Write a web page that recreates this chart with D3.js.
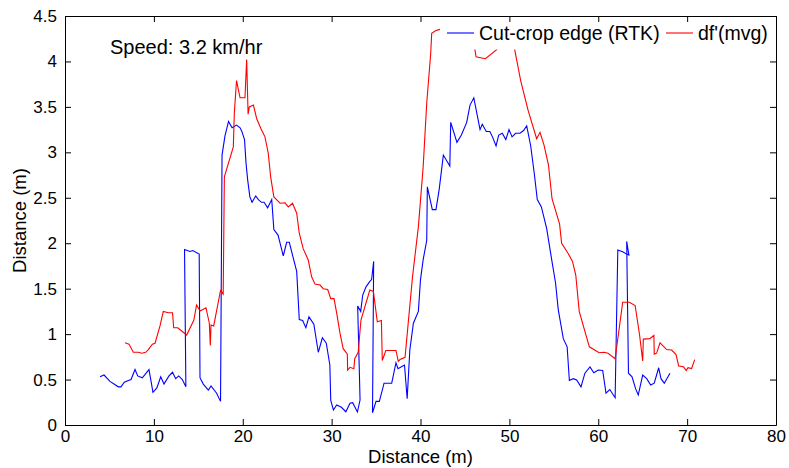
<!DOCTYPE html>
<html><head><meta charset="utf-8">
<script src="https://cdn.jsdelivr.net/npm/d3@7"></script>
<style>body{margin:0;background:#fff}svg{display:block}text{font-family:"Liberation Sans",Arial,sans-serif}</style>
</head><body><svg id="c" width="789" height="468"></svg>
<script>
const xTicks = [0,10,20,30,40,50,60,70,80];
const yTicks = [0,0.5,1,1.5,2,2.5,3,3.5,4,4.5];
const seriesNames = ["Cut-crop edge (RTK)", "df'(mvg)"];
const annotation = "Speed: 3.2 km/hr";
const xLabel = "Distance (m)";
const yLabel = "Distance (m)";

const rtkX = [3.94,4.39,5.06,6.0,6.3,6.67,7.13,7.43,7.88,8.18,8.7,9.45,9.9,10.35,10.77,11.14,11.7,12.1,12.45,12.8,13.2,13.6,13.45,14.06,14.37,15.1,15.19,15.56,16.13,16.43,17.06,17.5,17.67,18.0,18.4,18.8,19.3,19.7,19.9,20.2,20.37,20.55,20.8,21.05,21.46,21.76,22.1,22.4,22.8,23.26,23.5,23.97,24.2,24.56,24.94,25.24,25.6,26.07,26.36,26.74,27.1,27.45,28.0,28.5,28.96,29.4,29.8,29.9,30.2,30.57,31.1,31.6,32.07,32.37,32.9,33.2,32.93,33.27,33.5,33.87,34.3,34.5,34.73,34.6,35.0,35.37,35.9,36.76,37.24,37.47,38.0,38.2,38.5,38.8,39.2,39.76,40.0,40.3,40.7,40.77,41.33,41.74,42.1,42.57,43.3,43.4,44.1,44.6,45.2,45.57,46.0,46.7,46.95,47.4,47.8,48.1,48.5,48.8,49.2,49.6,49.96,50.3,50.7,51.2,51.6,51.95,52.4,52.8,53.14,53.6,54.2,54.76,55.2,55.5,56.07,56.5,56.75,57.2,57.57,58.06,58.5,59.07,59.5,60.0,60.5,60.87,61.3,61.9,62.2,62.75,63.2,63.45,63.2,63.4,63.8,64.2,64.5,65.0,65.45,65.9,66.3,66.8,67.06,67.43,68.07];
const rtkY = [0.53,0.55,0.48,0.42,0.42,0.47,0.49,0.5,0.61,0.54,0.52,0.61,0.36,0.41,0.53,0.45,0.54,0.58,0.51,0.54,0.5,0.42,1.93,1.91,1.92,1.88,0.52,0.45,0.385,0.43,0.35,0.26,2.97,3.18,3.34,3.27,3.3,3.27,3.23,3.14,2.88,2.7,2.51,2.45,2.52,2.48,2.45,2.45,2.39,2.48,2.15,2.09,2.0,1.86,2.01,2.01,1.87,1.69,1.16,1.15,1.07,1.19,1.11,0.8,0.96,0.9,0.66,0.27,0.165,0.22,0.195,0.146,0.24,0.245,0.143,0.275,1.31,1.25,1.43,1.52,1.58,1.6,1.8,0.135,0.26,0.26,0.46,0.46,0.685,0.62,0.65,0.66,0.29,0.825,1.12,1.25,1.6,1.82,2.03,2.62,2.37,2.37,2.59,2.97,2.85,3.33,3.11,3.19,3.33,3.52,3.6,3.25,3.31,3.23,3.23,3.17,3.07,3.19,3.21,3.14,3.25,3.17,3.21,3.21,3.24,3.29,3.07,2.77,2.48,2.4,2.16,1.82,1.56,1.27,0.95,0.86,0.49,0.51,0.495,0.42,0.57,0.64,0.575,0.605,0.6,0.35,0.39,0.3,1.925,1.905,1.88,1.87,2.02,0.57,0.53,0.4,0.33,0.55,0.51,0.44,0.46,0.63,0.51,0.46,0.57];

const dfX = [6.75,7.2,7.69,8.25,8.63,9.08,9.38,9.83,10.13,10.69,11.06,11.63,12.1,12.23,12.68,13.69,14.5,14.8,15.2,15.86,16.24,16.35,16.43,16.73,17.5,17.8,17.93,18.94,19.05,19.3,19.7,20.25,20.44,20.6,20.74,21.2,21.57,22.05,22.5,22.87,23.14,23.5,24.2,24.75,25.13,25.6,26.07,26.36,26.8,27.37,27.75,28.13,28.7,29.06,29.56,29.9,30.27,30.57,30.94,31.3,31.77,31.8,32.07,32.5,32.6,32.99,33.3,34.3,34.7,35.14,35.6,35.7,36.1,37.24,37.5,37.7,38.26,39.1,39.76,40.3,40.7,41.15,41.26,41.74,42.1,43.0,44.0,45.0,45.9,46.13,46.25,47.3,48.57,49.2,50.0,50.6,51.27,52.1,53.07,53.45,53.9,54.4,54.8,55.65,55.88,56.6,57.1,57.47,57.86,58.5,59.0,59.5,60.1,60.65,61.1,61.9,62.75,63.5,64.15,64.65,65.0,65.07,65.8,66.26,66.3,66.57,66.95,67.7,68.26,68.75,69.05,69.6,69.9,70.1,70.5,70.85];
const dfY = [0.905,0.89,0.8,0.8,0.79,0.8,0.83,0.89,0.9,1.09,1.25,1.235,1.235,1.07,1.07,0.99,1.155,1.32,1.255,1.29,1.12,0.875,1.1,1.09,1.48,1.44,2.73,3.06,3.43,3.79,3.6,3.6,4.02,3.42,3.5,3.52,3.37,3.26,3.17,2.99,2.73,2.51,2.44,2.445,2.4,2.44,2.33,2.11,1.94,1.815,1.63,1.55,1.54,1.5,1.49,1.39,1.39,1.23,1.01,0.84,0.78,0.605,0.635,0.62,0.73,0.8,1.155,1.485,1.47,1.135,1.15,0.71,0.82,0.82,0.7,0.72,0.745,1.63,2.18,2.84,3.54,4.09,4.31,4.34,4.35,4.4,4.42,4.38,4.25,4.125,4.05,4.03,4.13,4.3,4.32,4.13,3.79,3.465,3.15,3.22,3.08,2.86,2.49,2.21,2.0,1.89,1.8,1.65,1.25,1.03,0.86,0.83,0.795,0.8,0.79,0.73,1.35,1.35,1.315,0.99,0.705,0.945,0.95,0.985,0.78,0.79,0.905,0.83,0.825,0.775,0.65,0.64,0.6,0.63,0.62,0.72];

const svg = d3.select("#c");
const L = 65, R = 776, T = 16, B = 425;
const x = d3.scaleLinear().domain([0,80]).range([L,R]);
const y = d3.scaleLinear().domain([0,4.5]).range([B,T]);

const defs = svg.append("defs");
defs.append("clipPath").attr("id","clip").append("rect").attr("x",L).attr("y",T).attr("width",R-L).attr("height",B-T);

const g = svg.append("g").attr("clip-path","url(#clip)");
const line = d3.line().x(d=>x(d[0])).y(d=>y(d[1]));
g.append("path").datum(rtkX.map((v,i)=>[v,rtkY[i]])).attr("d",line).attr("fill","none").attr("stroke","#0000ff").attr("stroke-width",1.1);
g.append("path").datum(dfX.map((v,i)=>[v,dfY[i]])).attr("d",line).attr("fill","none").attr("stroke","#ff0000").attr("stroke-width",1.1);

// legend background (no border)
svg.append("rect").attr("x",440).attr("y",T+0.5).attr("width",R-440-0.5).attr("height",33).attr("fill","#fff");

// axes
const tl = 6;
const xAxisB = d3.axisBottom(x).tickValues(xTicks).tickFormat(d3.format("d")).tickSizeInner(-tl).tickSizeOuter(0).tickPadding(5);
const xAxisT = d3.axisTop(x).tickValues(xTicks).tickFormat("").tickSizeInner(-tl).tickSizeOuter(0);
const yAxisL = d3.axisLeft(y).tickValues(yTicks).tickFormat(d=>d3.format("")(d)).tickSizeInner(-tl).tickSizeOuter(0).tickPadding(8);
const yAxisR = d3.axisRight(y).tickValues(yTicks).tickFormat("").tickSizeInner(-tl).tickSizeOuter(0);
function style(sel){ sel.selectAll("path,line").attr("stroke","#000").attr("stroke-width",1); sel.selectAll("text").attr("fill","#000").style("font-size","17px").style("font-family","'Liberation Sans',Arial,sans-serif"); }
svg.append("g").attr("transform",`translate(0,${B})`).call(xAxisB).call(style);
svg.append("g").attr("transform",`translate(0,${T})`).call(xAxisT).call(style);
svg.append("g").attr("transform",`translate(${L},0)`).call(yAxisL).call(style);
svg.append("g").attr("transform",`translate(${R},0)`).call(yAxisR).call(style);

// labels
svg.append("text").attr("x",(L+R)/2).attr("y",463).attr("text-anchor","middle").style("font-size","18.5px").text(xLabel);
svg.append("text").attr("transform",`translate(26,${(T+B)/2}) rotate(-90)`).attr("text-anchor","middle").style("font-size","18.5px").text(yLabel);
svg.append("text").attr("x",110).attr("y",54).style("font-size","20px").text(annotation);

// legend
const ly = 33;
svg.append("line").attr("x1",447).attr("x2",474).attr("y1",ly).attr("y2",ly).attr("stroke","#0000ff").attr("stroke-width",1.1);
svg.append("text").attr("x",479).attr("y",ly+7).style("font-size","19.5px").text(seriesNames[0]);
svg.append("line").attr("x1",666).attr("x2",693).attr("y1",ly).attr("y2",ly).attr("stroke","#ff0000").attr("stroke-width",1.1);
svg.append("text").attr("x",698).attr("y",ly+7).style("font-size","19.5px").text(seriesNames[1]);
</script></body></html>
